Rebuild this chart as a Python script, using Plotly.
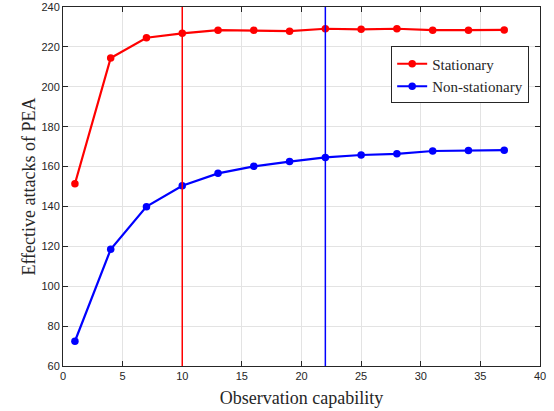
import plotly.graph_objects as go

x_vals = [1, 4, 7, 10, 13, 16, 19, 22, 25, 28, 31, 34, 37]
stationary = [151.4, 214.4, 224.6, 226.8, 228.4, 228.3, 227.9, 229.1, 228.8, 229.1, 228.4, 228.4, 228.5]
non_stationary = [72.4, 118.5, 139.9, 150.4, 156.6, 160.1, 162.5, 164.6, 165.8, 166.4, 167.8, 168.1, 168.2]
vline_x = [10, 22]
vline_colors = ["#ff0000", "#0000ff"]
x_ticks = [0, 5, 10, 15, 20, 25, 30, 35, 40]
y_ticks = [60, 80, 100, 120, 140, 160, 180, 200, 220, 240]

fig = go.Figure()
fig.add_trace(go.Scatter(x=x_vals, y=stationary, mode="lines+markers", name="Stationary",
                         line=dict(color="#ff0000", width=2.2), marker=dict(size=7.5, color="#ff0000")))
fig.add_trace(go.Scatter(x=x_vals, y=non_stationary, mode="lines+markers", name="Non-stationary",
                         line=dict(color="#0000ff", width=2.2), marker=dict(size=7.5, color="#0000ff")))

for xv, c in zip(vline_x, vline_colors):
    fig.add_shape(type="line", x0=xv, x1=xv, y0=0, y1=1, xref="x", yref="paper",
                  line=dict(color=c, width=1.5))

axis_common = dict(showgrid=True, gridcolor="#e3e3e3", gridwidth=1, showline=True,
                   linecolor="#262626", linewidth=1, mirror="ticks", ticks="inside",
                   ticklen=5, tickcolor="#262626", zeroline=False, automargin=False,
                   tickfont=dict(family="Liberation Sans", size=11, color="#262626"))

fig.update_layout(
    width=554, height=411,
    font=dict(family="Liberation Serif", color="#262626"),
    margin=dict(l=63, r=14, t=7, b=45),
    plot_bgcolor="white", paper_bgcolor="white",
    xaxis=dict(range=[0, 40], tickvals=x_ticks, title=dict(text="Observation capability",
               font=dict(family="Liberation Serif", size=18, color="#262626"), standoff=10),
               **axis_common),
    yaxis=dict(range=[60, 240], tickvals=y_ticks, title=dict(text="Effective attacks of PEA",
               font=dict(family="Liberation Serif", size=18, color="#262626"), standoff=1),
               **axis_common),
    legend=dict(x=0.688, y=0.89, xanchor="left", yanchor="top",
                bgcolor="white", bordercolor="#262626", borderwidth=1,
                font=dict(family="Liberation Serif", size=15, color="#262626"),
                tracegroupgap=0, itemwidth=30),
    showlegend=True,
)

fig.write_html("out.html", config={"displayModeBar": False},
               post_script="document.body.style.margin='0';")
